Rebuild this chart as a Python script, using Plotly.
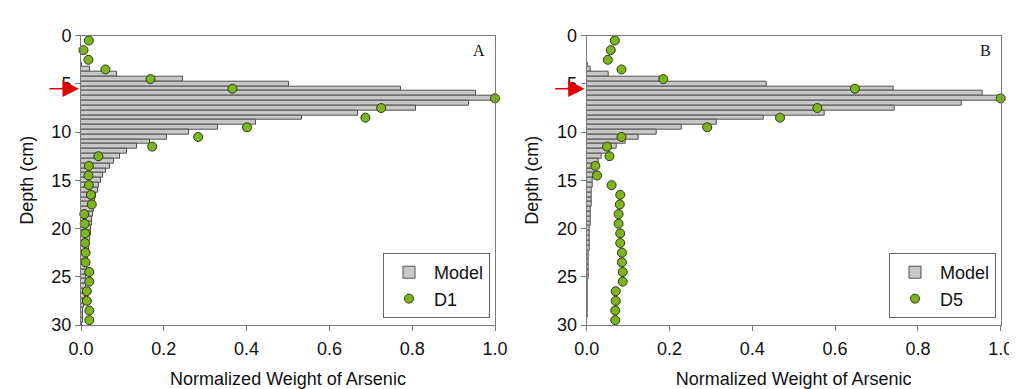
import plotly.graph_objects as go

# ---- data ----
bar_depth = [3.0 + 0.5 * i for i in range(55)]  # 3.0 ... 30.0
model_A = [0.003, 0.022, 0.087, 0.246, 0.502, 0.772, 0.953, 1.000, 0.936, 0.810,
           0.668, 0.535, 0.422, 0.332, 0.262, 0.207, 0.167, 0.136, 0.112, 0.094,
           0.080, 0.070, 0.061, 0.054, 0.048, 0.043, 0.040, 0.037, 0.035, 0.033,
           0.031, 0.029, 0.027, 0.026, 0.024, 0.023, 0.021, 0.020, 0.019, 0.018,
           0.017, 0.016, 0.015, 0.014, 0.013, 0.012, 0.011, 0.010, 0.009, 0.008,
           0.007, 0.006, 0.005, 0.004, 0.003]
model_B = [0.002, 0.010, 0.052, 0.183, 0.435, 0.742, 0.956, 1.000, 0.905, 0.743,
           0.575, 0.428, 0.314, 0.229, 0.168, 0.125, 0.094, 0.072, 0.056, 0.036,
           0.030, 0.024, 0.020, 0.017, 0.015, 0.014, 0.013, 0.012, 0.011, 0.011,
           0.010, 0.0095, 0.009, 0.0085, 0.008, 0.0075, 0.007, 0.0066, 0.0062, 0.0058,
           0.0054, 0.005, 0.0046, 0.0042, 0.0038, 0.0034, 0.003, 0.0027, 0.0024, 0.0021,
           0.0018, 0.0015, 0.0012, 0.0009, 0.0006]

dot_depth = [0.5 + i for i in range(30)]  # 0.5 ... 29.5
D1 = [0.019, 0.006, 0.018, 0.059, 0.168, 0.366, 1.000, 0.725, 0.687, 0.401,
      0.283, 0.172, 0.042, 0.019, 0.018, 0.019, 0.024, 0.026, 0.008, 0.009,
      0.010, 0.010, 0.011, 0.011, 0.020, 0.020, 0.014, 0.014, 0.020, 0.020]
D5 = [0.068, 0.058, 0.051, 0.084, 0.185, 0.648, 1.000, 0.557, 0.467, 0.291,
      0.084, 0.049, 0.055, 0.021, 0.025, 0.060, 0.081, 0.080, 0.077, 0.077,
      0.081, 0.081, 0.085, 0.085, 0.087, 0.087, 0.070, 0.070, 0.069, 0.069]

x_ticks = [0.0, 0.2, 0.4, 0.6, 0.8, 1.0]
y_ticks = [0, 5, 10, 15, 20, 25, 30]
panel_labels = ["A", "B"]
arrow_depth = 5.5

# page body has an 8px margin, so the figure is drawn 8px in from the top-left
OFF = 8
W, H = 1017 - OFF, 389 - OFF


def px(x):
    return (x - OFF) / W


def py(y):
    return (H - (y - OFF)) / H


font_main = "Liberation Sans, Arial, sans-serif"
bar_fill = "#c8c8c8"
bar_line = "#505050"
dot_fill = "#7cb51e"
axis_col = "#7a7a7a"

fig = go.Figure()

panels = [
    (model_A, D1, "D1", "x", "y", "legend"),
    (model_B, D5, "D5", "x2", "y2", "legend2"),
]
for model, dots, name, xa, ya, lg in panels:
    fig.add_trace(go.Bar(
        x=model, y=bar_depth, orientation="h", width=0.5,
        marker=dict(color=bar_fill, line=dict(color=bar_line, width=1)),
        name="Model", xaxis=xa, yaxis=ya, legend=lg,
    ))
    fig.add_trace(go.Scatter(
        x=dots, y=dot_depth, mode="markers",
        marker=dict(size=9, color=dot_fill, line=dict(color="#2a3a10", width=1)),
        name=name, xaxis=xa, yaxis=ya, legend=lg, cliponaxis=False,
    ))

domA = [px(81), px(495)]
domB = [px(586.7), px(1000.7)]
ydom = [py(325), py(35.7)]


def xax(dom, anchor):
    return dict(domain=dom, anchor=anchor, range=[0, 1], tickvals=x_ticks,
                tickformat=".1f", ticks="outside", ticklen=5, tickcolor=axis_col,
                showline=True, linecolor=axis_col, linewidth=1, mirror=True,
                showgrid=False, zeroline=False, automargin=False,
                ticklabelstandoff=2,
                tickfont=dict(family=font_main, size=18, color="#111"),
                title=dict(text="Normalized Weight of Arsenic",
                           font=dict(family=font_main, size=18, color="#111"),
                           standoff=22))


def yax(anchor):
    return dict(domain=ydom, anchor=anchor, range=[30, 0], tickvals=y_ticks,
                ticks="outside", ticklen=5, tickcolor=axis_col,
                showline=True, linecolor=axis_col, linewidth=1, mirror=True,
                showgrid=False, zeroline=False, automargin=False,
                tickfont=dict(family=font_main, size=18, color="#111"),
                title=dict(text="Depth (cm)",
                           font=dict(family=font_main, size=18, color="#111"),
                           standoff=13))


leg_common = dict(bgcolor="white", bordercolor="#666", borderwidth=1,
                  font=dict(family=font_main, size=18, color="#111"),
                  xanchor="right", yanchor="top", tracegroupgap=0,
                  itemwidth=40)

fig.update_layout(
    width=W, height=H, margin=dict(l=0, r=0, t=0, b=0, autoexpand=False),
    paper_bgcolor="white", plot_bgcolor="white",
    bargap=0, barmode="overlay", showlegend=True,
    xaxis=xax(domA, "y"), yaxis=yax("x"),
    xaxis2=xax(domB, "y2"), yaxis2=yax("x2"),
    legend=dict(x=px(490), y=py(253), **leg_common),
    legend2=dict(x=px(996), y=py(253), **leg_common),
)

for lab, ya, dom in [(panel_labels[0], "y", domA), (panel_labels[1], "y2", domB)]:
    fig.add_annotation(text=lab, xref="paper", yref="paper",
                       x=dom[1] - 8 / W, y=py(50), xanchor="right", yanchor="middle",
                       showarrow=False,
                       font=dict(family="Liberation Serif, Times New Roman, serif", size=16, color="#111"))
    fig.add_annotation(text="", xref="paper", yref=ya,
                       x=dom[0] - 2 / W, y=arrow_depth,
                       ax=-31, ay=0, showarrow=True,
                       arrowhead=2, arrowsize=2.2, arrowwidth=1.5, arrowcolor="#e00000")

fig.write_html("out.html", post_script="document.body.style.overflow='hidden';")
